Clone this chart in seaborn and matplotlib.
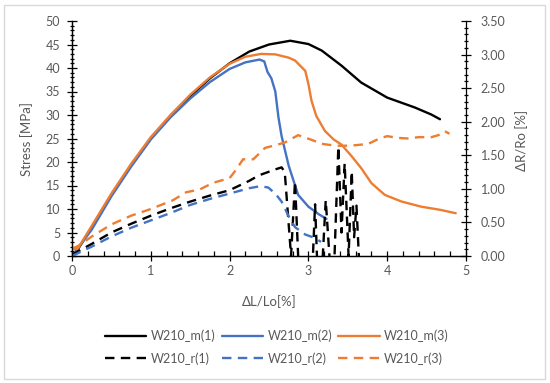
import numpy as np
import matplotlib.pyplot as plt
import seaborn as sns
from matplotlib.patches import Rectangle
from matplotlib.ticker import MultipleLocator, FormatStrFormatter

# stress curves [MPa] (left axis)
m1_x = [0, 0.05, 0.25, 0.5, 0.75, 1.0, 1.25, 1.5, 1.75, 2.0, 2.25, 2.5, 2.77, 3.0, 3.17, 3.42, 3.67, 4.0, 4.35, 4.56, 4.67]
m1_y = [0, 0.8, 6.0, 13.0, 19.3, 25.0, 29.8, 34.0, 37.8, 41.0, 43.5, 45.0, 45.8, 45.1, 43.7, 40.5, 36.9, 33.7, 31.6, 30.1, 29.1]

m2_x = [0, 0.25, 0.5, 0.75, 1.0, 1.25, 1.5, 1.75, 2.0, 2.2, 2.38, 2.44, 2.48, 2.53, 2.58, 2.62, 2.66, 2.75, 2.87, 3.0, 3.13, 3.23]
m2_y = [0, 5.6, 12.7, 19.0, 24.8, 29.5, 33.5, 37.0, 39.8, 41.2, 41.8, 41.4, 39.2, 37.8, 35.0, 29.5, 25.5, 19.2, 13.0, 10.5, 8.9, 7.9]

m3_x = [0, 0.07, 0.25, 0.5, 0.75, 1.0, 1.25, 1.5, 1.75, 2.0, 2.2, 2.4, 2.58, 2.75, 2.83, 2.96, 3.0, 3.04, 3.1, 3.21, 3.32, 3.42, 3.55, 3.67, 3.8, 3.97, 4.18, 4.43, 4.68, 4.87]
m3_y = [1.5, 1.5, 6.4, 13.3, 19.6, 25.3, 30.0, 34.3, 38.0, 40.9, 42.4, 43.0, 42.9, 42.2, 41.6, 39.4, 36.6, 33.0, 29.8, 26.6, 24.8, 23.7, 21.2, 18.7, 15.5, 13.0, 11.6, 10.5, 9.8, 9.1]

# resistance change curves [%] (right axis)
r1_x = [0, 0.25, 0.5, 0.75, 1.0, 1.25, 1.5, 1.75, 2.0, 2.25, 2.37, 2.58, 2.66, 2.70, 2.78, 2.83, 2.87, 2.95,
        3.05, 3.085, 3.11, 3.18, 3.22, 3.27, 3.33, 3.38, 3.42, 3.46, 3.51, 3.55, 3.58, 3.61, 3.64]
r1_y = [0.02, 0.18, 0.35, 0.48, 0.60, 0.71, 0.81, 0.90, 0.98, 1.12, 1.20, 1.29, 1.32, 1.25, 0.0, 1.11, 0.0, -0.2,
        -0.2, 0.77, -0.05, -0.05, 0.83, -0.05, -0.05, 1.63, 0.35, 1.38, 0.0, 1.26, 0.28, 0.75, 0.0]

r2_x = [0, 0.25, 0.5, 0.75, 1.0, 1.25, 1.5, 1.75, 2.0, 2.25, 2.39, 2.49, 2.58, 2.66, 2.75, 2.83, 2.96, 3.08, 3.16]
r2_y = [0, 0.14, 0.29, 0.42, 0.53, 0.64, 0.76, 0.85, 0.93, 1.01, 1.04, 1.02, 0.93, 0.81, 0.59, 0.43, 0.32, 0.27, 0.21]

r3_x = [0, 0.08, 0.25, 0.5, 0.75, 1.0, 1.28, 1.45, 1.62, 1.79, 2.0, 2.08, 2.17, 2.3, 2.45, 2.58, 2.70, 2.87, 3.04,
        3.17, 3.30, 3.42, 3.6, 3.76, 3.9, 4.0, 4.13, 4.26, 4.4, 4.56, 4.65, 4.73, 4.79]
r3_y = [0.11, 0.15, 0.29, 0.47, 0.60, 0.70, 0.83, 0.95, 0.99, 1.09, 1.16, 1.28, 1.44, 1.44, 1.61, 1.65, 1.69, 1.80, 1.73,
        1.67, 1.65, 1.64, 1.65, 1.67, 1.75, 1.785, 1.76, 1.75, 1.77, 1.77, 1.80, 1.86, 1.82]

labels = ["W210_m(1)", "W210_m(2)", "W210_m(3)", "W210_r(1)", "W210_r(2)", "W210_r(3)"]
colors = ["black", "#4472C4", "#ED7D31"]

sns.set_theme(style="white")
plt.rcParams['font.family'] = ['Lato', 'DejaVu Sans']
grey = "#595959"

fig = plt.figure(figsize=(5.5, 3.83), dpi=100)
ax = fig.add_axes([72/550, 1-256/383, (466-72)/550, (256-21)/383])
ax2 = ax.twinx()

dash = (0, (4, 2.7))
handles = []
for (x, y), c, lab in zip([(m1_x, m1_y), (m2_x, m2_y), (m3_x, m3_y)], colors, labels[:3]):
    sns.lineplot(x=x, y=y, ax=ax, color=c, linewidth=1.7, sort=False, estimator=None, legend=False)
    ax.lines[-1].set_label(lab)
    handles.append(ax.lines[-1])
for (x, y), c, lab in zip([(r1_x, r1_y), (r2_x, r2_y), (r3_x, r3_y)], colors, labels[3:]):
    sns.lineplot(x=x, y=y, ax=ax2, color=c, linewidth=1.7, linestyle=dash, sort=False, estimator=None, legend=False)
    ax2.lines[-1].set_label(lab)
    handles.append(ax2.lines[-1])

ax.set_xlim(0, 5)
ax.set_ylim(0, 50)
ax2.set_ylim(0, 3.5)
ax.xaxis.set_major_locator(MultipleLocator(1))
ax.xaxis.set_minor_locator(MultipleLocator(0.2))
ax.yaxis.set_major_locator(MultipleLocator(5))
ax.yaxis.set_minor_locator(MultipleLocator(1))
ax2.yaxis.set_major_locator(MultipleLocator(0.5))
ax2.yaxis.set_minor_locator(MultipleLocator(0.1))
ax2.yaxis.set_major_formatter(FormatStrFormatter('%.2f'))

for a in (ax, ax2):
    a.spines['top'].set_visible(False)
    for s in ('left', 'right', 'bottom'):
        a.spines[s].set_color('black')
        a.spines[s].set_linewidth(0.9)
ax.spines['right'].set_visible(False)

ax.tick_params(axis='x', which='major', direction='inout', length=7, width=0.9, color='black',
               labelsize=9, labelcolor=grey, pad=3, bottom=True)
ax.tick_params(axis='x', which='minor', direction='in', length=3.5, width=0.9, color='black', bottom=True)
ax.tick_params(axis='y', which='major', direction='inout', length=7, width=0.9, color='black',
               labelsize=9, labelcolor=grey, pad=5, left=True)
ax.tick_params(axis='y', which='minor', direction='inout', length=3.5, width=0.9, color='black', left=True)
ax2.tick_params(axis='y', which='major', direction='inout', length=7, width=0.9, color='black',
                labelsize=9, labelcolor=grey, pad=7, right=True)
ax2.tick_params(axis='y', which='minor', direction='inout', length=3.5, width=0.9, color='black', right=True)

ax.set_xlabel("ΔL/Lo[%]", fontsize=9.5, color=grey)
ax.set_ylabel("Stress [MPa]", fontsize=9.5, color=grey)
ax2.set_ylabel("ΔR/Ro [%]", fontsize=9.5, color=grey)
ax.xaxis.set_label_coords(0.5, -0.166)
ax.yaxis.set_label_coords(-0.099, 0.5)
ax2.yaxis.set_label_coords(1.125, 0.49)

# legend rows: m(1..3) on top, r(1..3) below
order = [0, 3, 1, 4, 2, 5]
fig.legend([handles[i] for i in order], [labels[i] for i in order], ncol=3, frameon=False,
           loc='center', bbox_to_anchor=(277/550, 1-347/383), fontsize=9, labelcolor=grey,
           handlelength=3.3, handletextpad=0.35, columnspacing=0.5, labelspacing=0.8)

fig.patches.append(Rectangle((4/550, 4/383), 541/550, 374/383, transform=fig.transFigure,
                             fill=False, edgecolor="#D9D9D9", linewidth=1))

plt.savefig("out.png", dpi=100)
